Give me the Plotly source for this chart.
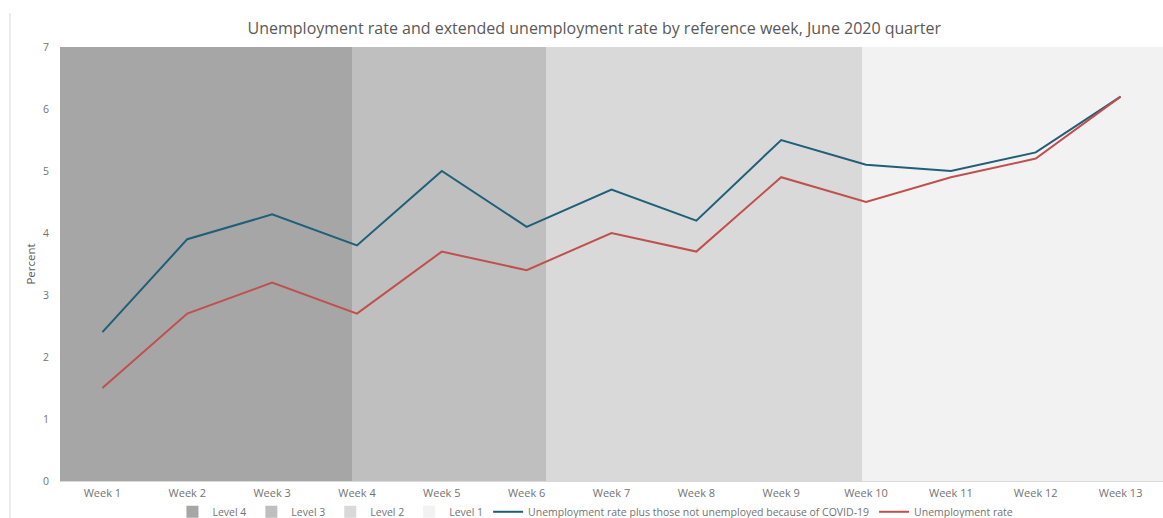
import plotly.graph_objects as go

# Reference weeks of the June 2020 quarter
weeks = [f"Week {i}" for i in range(1, 14)]
week_num = list(range(1, 14))

# Unemployment rate plus those not unemployed because of COVID-19 (%)
extended_rate = [2.4, 3.9, 4.3, 3.8, 5.0, 4.1, 4.7, 4.2, 5.5, 5.1, 5.0, 5.3, 6.2]
# Unemployment rate (%)
unemployment_rate = [1.5, 2.7, 3.2, 2.7, 3.7, 3.4, 4.0, 3.7, 4.9, 4.5, 4.9, 5.2, 6.2]

# Alert levels in force, given as start/end on the week scale
levels = ["Level 4", "Level 3", "Level 2", "Level 1"]
level_start = [0.5, 3.94, 6.23, 9.95]
level_end = [3.94, 6.23, 9.95, 13.5]
level_colors = ["#a6a6a6", "#bfbfbf", "#d9d9d9", "#f2f2f2"]

y_max = 7

FONT = "Open Sans"
TEXT = "#595959"
TICK = "#737373"

fig = go.Figure()

for name, s, e, c in zip(levels, level_start, level_end, level_colors):
    fig.add_trace(go.Bar(
        x=[(s + e) / 2], y=[y_max], width=[e - s], base=0,
        name=name, marker=dict(color=c, line=dict(width=0)),
        hoverinfo="skip",
    ))

fig.add_trace(go.Scatter(
    x=week_num, y=extended_rate, mode="lines",
    name="Unemployment rate plus those not unemployed because of COVID-19",
    line=dict(color="#1f5f78", width=2),
))
fig.add_trace(go.Scatter(
    x=week_num, y=unemployment_rate, mode="lines",
    name="Unemployment rate",
    line=dict(color="#c0504d", width=2),
))

fig.update_layout(
    width=1163, height=518,
    margin=dict(l=60, r=0, t=47, b=37, autoexpand=False),
    paper_bgcolor="white", plot_bgcolor="white",
    barmode="overlay", bargap=0,
    font=dict(family=FONT, size=11, color=TICK),
    title=dict(
        text="Unemployment rate and extended unemployment rate by reference week, June 2020 quarter",
        x=0.511, xref="container", xanchor="center",
        y=0.946, yref="container", yanchor="middle",
        font=dict(family=FONT, size=16, color=TEXT),
    ),
    xaxis=dict(
        range=[0.5, 13.5], tickmode="array", tickvals=week_num, ticktext=weeks,
        showgrid=False, zeroline=False, showline=True, linecolor="#d9d9d9",
        ticks="", ticklabelstandoff=2, tickfont=dict(size=11, color=TICK),
    ),
    yaxis=dict(
        range=[0, y_max], dtick=1, showgrid=True, gridcolor="#d9d9d9",
        zeroline=False, ticks="", ticklabelstandoff=10,
        tickfont=dict(size=10.5, color=TICK),
        title=dict(text="Percent", font=dict(size=11.5, color=TEXT), standoff=4),
    ),
    legend=dict(
        orientation="h", xref="container", x=0.512, xanchor="center",
        yref="container", y=0.012, yanchor="middle",
        bgcolor="rgba(0,0,0,0)",
        font=dict(size=10.5, color=TICK), itemwidth=30, tracegroupgap=0,
        traceorder="normal",
    ),
    showlegend=True,
)

# Outer frame line on the left of the chart area
fig.add_shape(type="line", xref="paper", yref="paper",
              x0=-0.0453, x1=-0.0453, y0=1.078, y1=-0.1,
              line=dict(color="#d9d9d9", width=1), layer="below")

fig.write_html("out.html")
